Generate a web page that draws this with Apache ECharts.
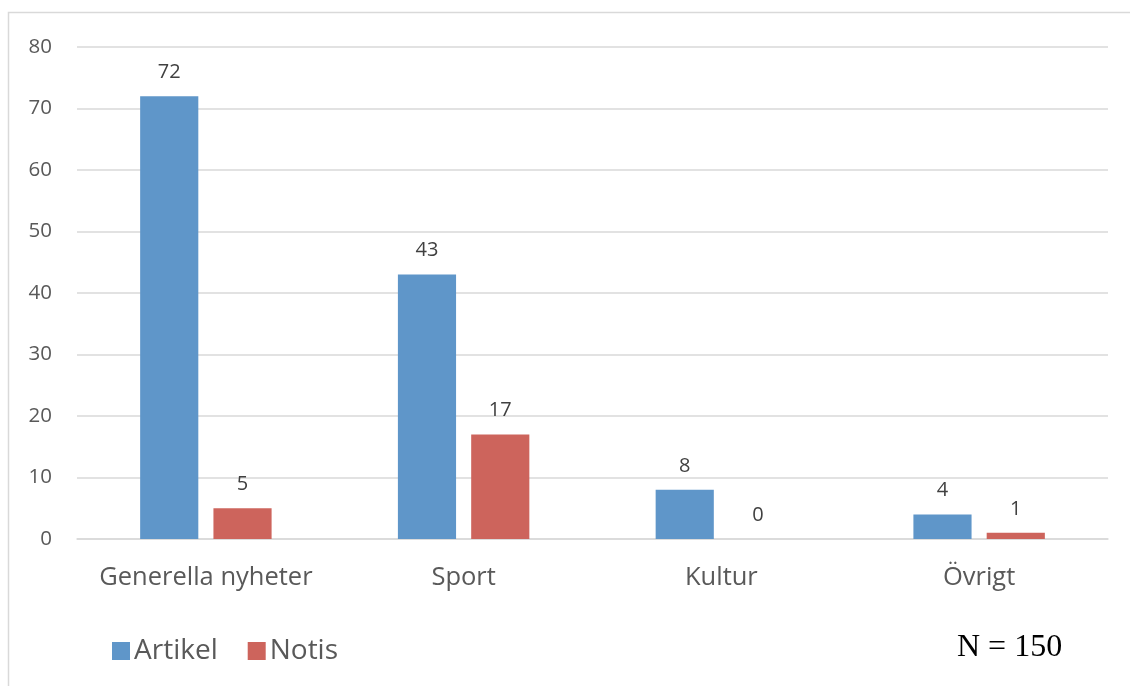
<!DOCTYPE html>
<html>
<head>
<meta charset="utf-8">
<script src="https://cdn.jsdelivr.net/npm/echarts@6/dist/echarts.min.js"></script>
<style>
  html, body { margin: 0; padding: 0; background: #fff; }
  #chart { width: 1130px; height: 686px; }
</style>
</head>
<body>
<div id="chart"></div>
<script>
// Articles by section, split by item type
const categories = ['Generella nyheter', 'Sport', 'Kultur', 'Övrigt'];
const artikel = [72, 43, 8, 4];
const notis = [5, 17, 0, 1];
const seriesNames = ['Artikel', 'Notis'];
const totalLabel = 'N = 150';

const FONT = '"Open Sans", "Noto Sans", sans-serif';
const chart = echarts.init(document.getElementById('chart'));

const labelStyle = {
  show: true,
  position: 'top',
  distance: 14,
  color: '#404040',
  fontFamily: FONT,
  fontSize: 20
};

chart.setOption({
  animation: false,
  backgroundColor: '#ffffff',
  graphic: [
    {
      type: 'rect',
      shape: { x: 8.5, y: 12.5, width: 1140, height: 700 },
      style: { fill: 'none', stroke: '#d9d9d9', lineWidth: 1.5 },
      silent: true
    },
    {
      type: 'text',
      left: 957,
      top: 632,
      style: {
        text: totalLabel,
        font: '32px "Liberation Serif", "DejaVu Serif", serif',
        fill: '#000000'
      }
    }
  ],
  legend: {
    left: 107,
    top: 632,
    itemWidth: 18,
    itemHeight: 18,
    itemGap: 30,
    icon: 'rect',
    textStyle: { color: '#595959', fontFamily: FONT, fontSize: 28, padding: [0, 0, 0, -1] },
    data: seriesNames
  },
  grid: { left: 77, right: 22, top: 47, height: 492, containLabel: false },
  xAxis: {
    type: 'category',
    data: categories,
    axisLine: { lineStyle: { color: '#d9d9d9', width: 1.5 } },
    axisTick: { show: false },
    axisLabel: { color: '#595959', fontFamily: FONT, fontSize: 25.5, margin: 26, interval: 0 }
  },
  yAxis: {
    type: 'value',
    min: 0,
    max: 80,
    interval: 10,
    axisLine: { show: false },
    axisTick: { show: false },
    splitLine: { lineStyle: { color: '#d9d9d9', width: 1.5 } },
    axisLabel: { color: '#595959', fontFamily: FONT, fontSize: 20.5, margin: 25 }
  },
  series: [
    {
      name: seriesNames[0],
      type: 'bar',
      data: artikel,
      itemStyle: { color: '#5f96c9' },
      barGap: '26%',
      barCategoryGap: '49%',
      label: labelStyle
    },
    {
      name: seriesNames[1],
      type: 'bar',
      data: notis,
      itemStyle: { color: '#cd645c' },
      label: labelStyle
    }
  ]
});
</script>
</body>
</html>
